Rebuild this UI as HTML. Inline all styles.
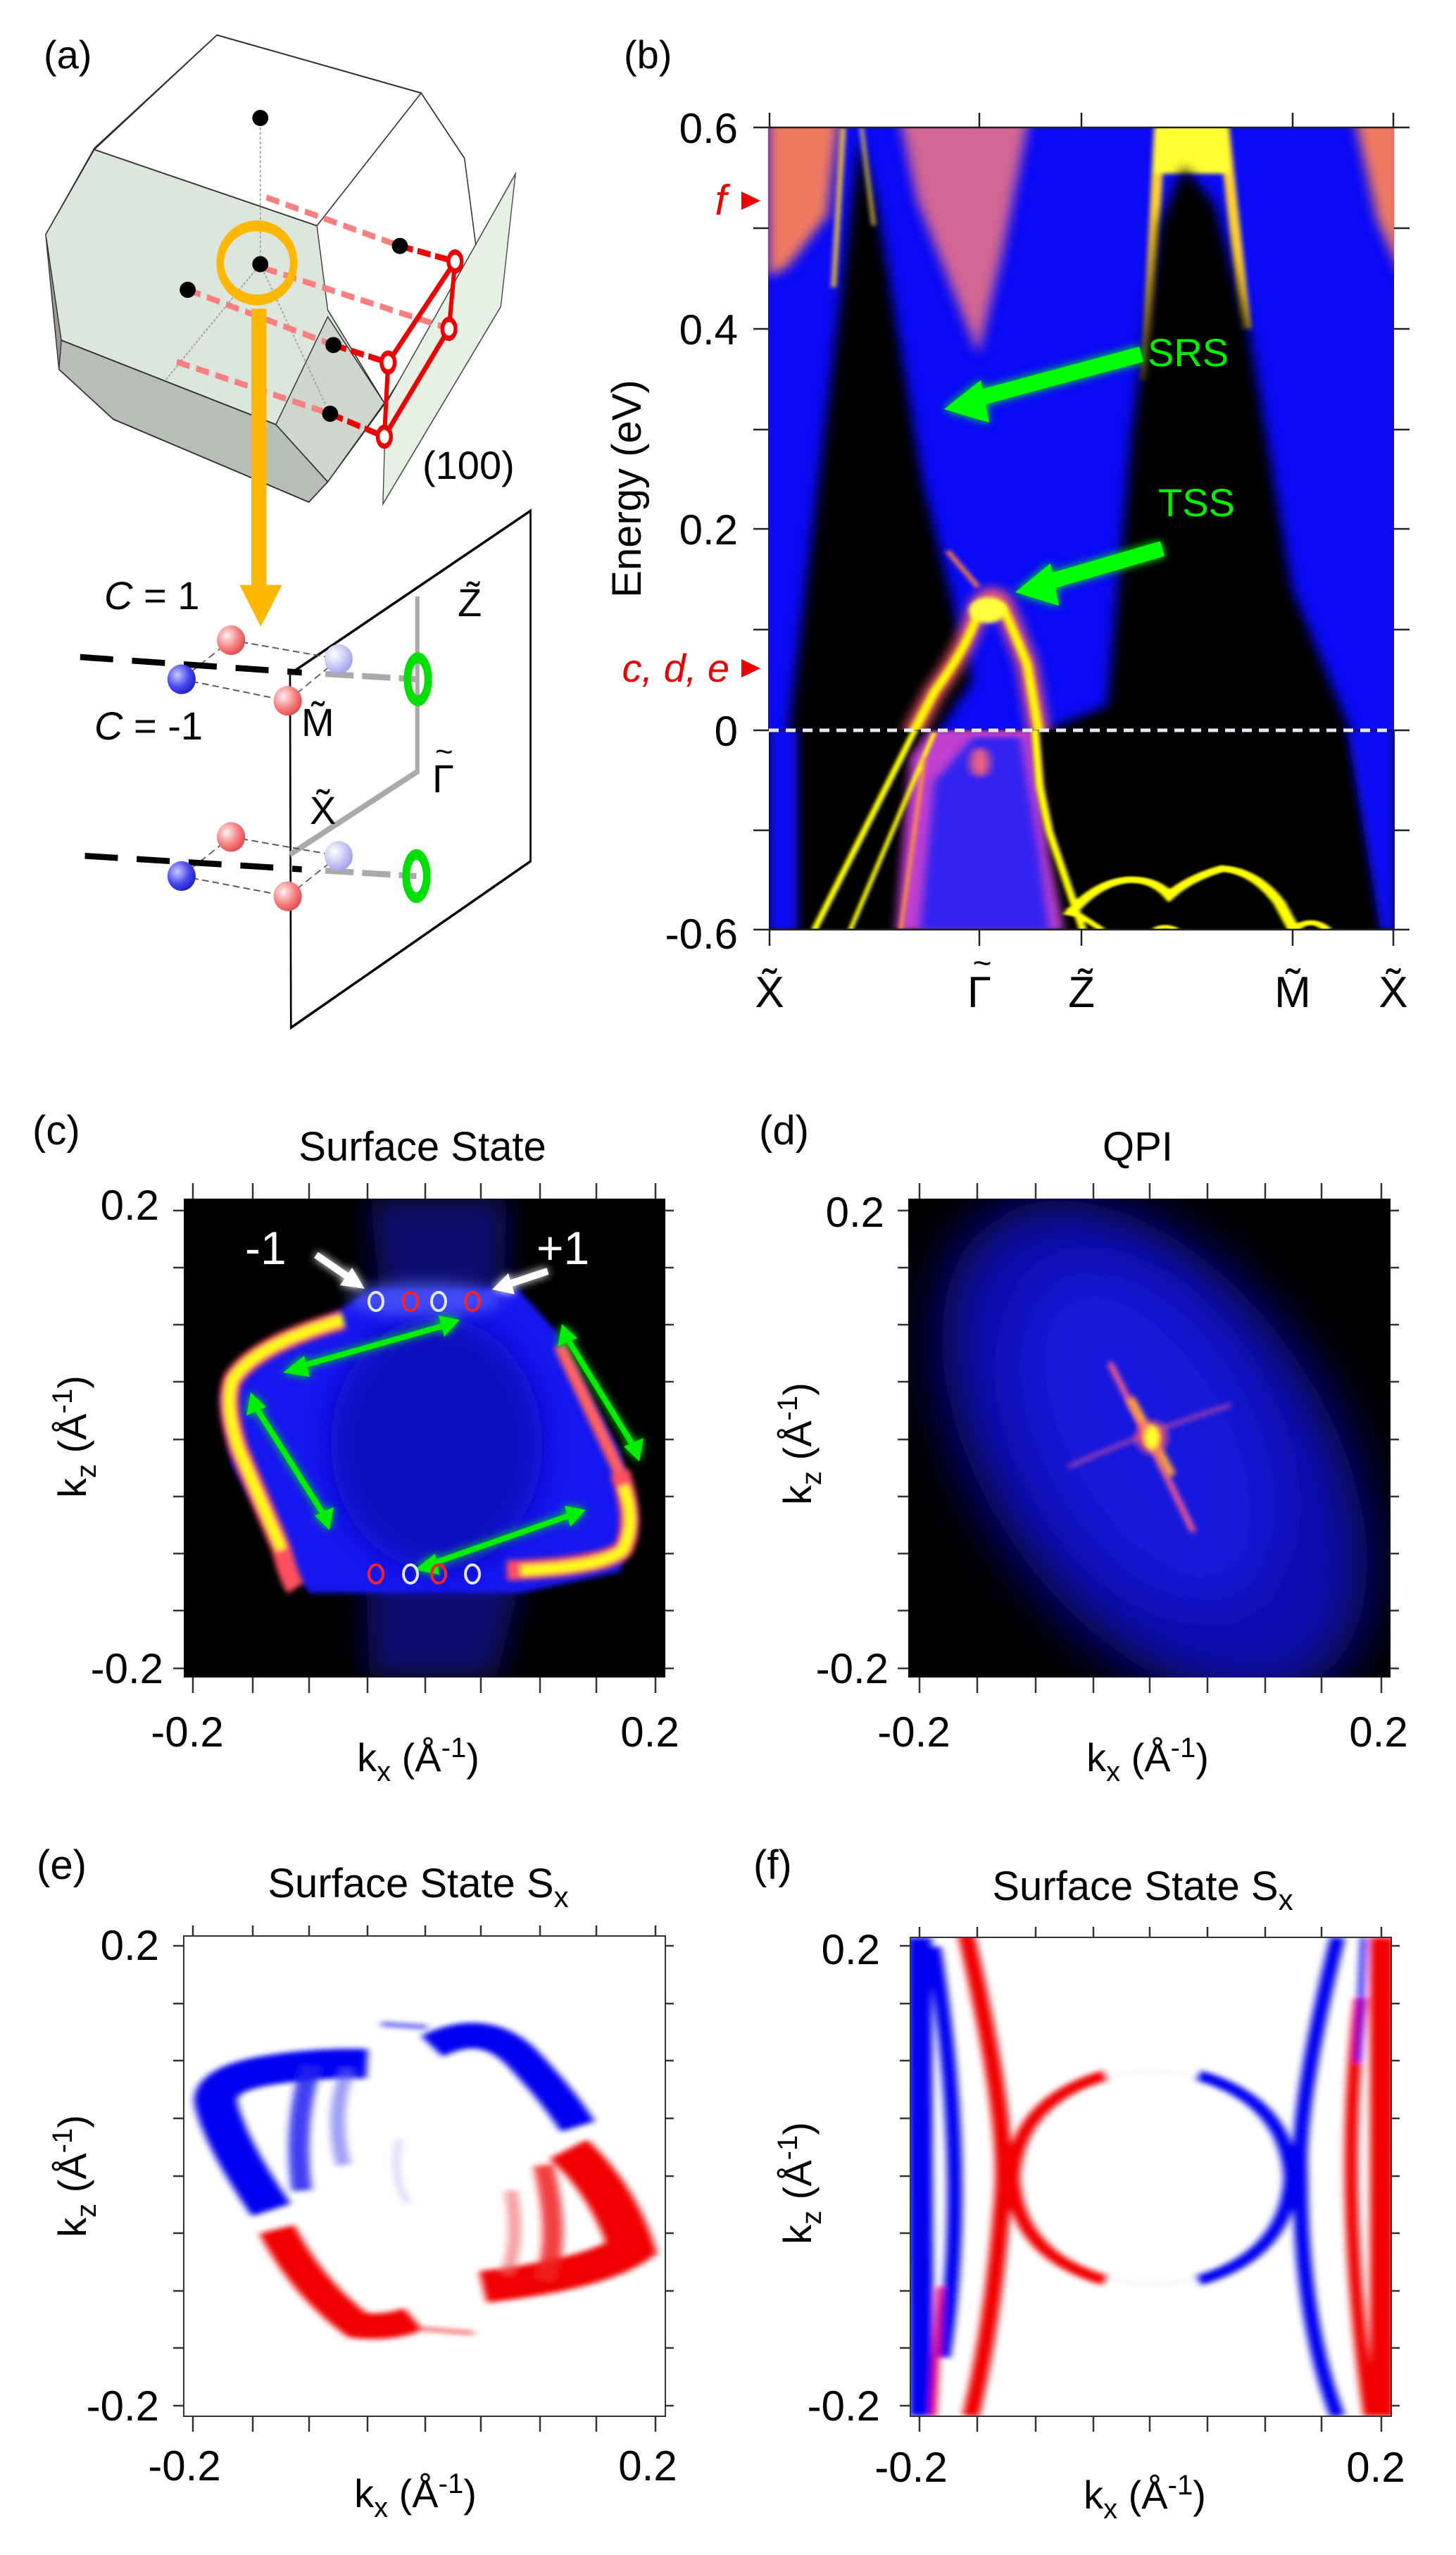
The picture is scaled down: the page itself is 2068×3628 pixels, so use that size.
<!DOCTYPE html>
<html><head><meta charset="utf-8"><style>
html,body{margin:0;padding:0;background:#fff;}
svg{display:block;}
text{font-family:"Liberation Sans","DejaVu Sans",sans-serif;}
</style></head><body>
<svg width="2068" height="3628" viewBox="0 0 2068 3628" xmlns="http://www.w3.org/2000/svg">
<defs>
<filter id="b4" x="-20%" y="-20%" width="140%" height="140%"><feGaussianBlur stdDeviation="4"/></filter>
<filter id="b10" x="-30%" y="-30%" width="160%" height="160%"><feGaussianBlur stdDeviation="10"/></filter>
<filter id="b20" x="-50%" y="-50%" width="200%" height="200%"><feGaussianBlur stdDeviation="20"/></filter>
<filter id="b40" x="-50%" y="-50%" width="200%" height="200%"><feGaussianBlur stdDeviation="40"/></filter>
<filter id="glow" x="-30%" y="-30%" width="160%" height="160%"><feGaussianBlur stdDeviation="6" result="g"/><feMerge><feMergeNode in="g"/><feMergeNode in="SourceGraphic"/></feMerge></filter>
<clipPath id="cb1"><rect x="448" y="110" width="1019" height="1167"/></clipPath>
<clipPath id="cb5"><rect x="135" y="388" width="1305" height="810"/></clipPath>
<clipPath id="cc"><rect x="261" y="1702" width="684" height="680"/></clipPath>
<clipPath id="cd"><rect x="1290" y="1702" width="685" height="680"/></clipPath>
<clipPath id="ce"><rect x="198" y="603" width="518" height="749"/></clipPath>
<clipPath id="cf"><rect x="980" y="605" width="518" height="747"/></clipPath>
<radialGradient id="star" cx="0.5" cy="0.5" r="0.5"><stop offset="0" stop-color="#ffff00"/><stop offset="0.35" stop-color="#ff8040"/><stop offset="1" stop-color="#ff40a0" stop-opacity="0"/></radialGradient>
<radialGradient id="sph_r" cx="0.35" cy="0.35" r="0.7"><stop offset="0" stop-color="#fff0f0"/><stop offset="0.6" stop-color="#f58080"/><stop offset="1" stop-color="#e04a4a"/></radialGradient>
<radialGradient id="sph_b" cx="0.35" cy="0.35" r="0.7"><stop offset="0" stop-color="#c8c8ff"/><stop offset="0.6" stop-color="#4848f0"/><stop offset="1" stop-color="#2020c0"/></radialGradient>
<radialGradient id="sph_lb" cx="0.35" cy="0.35" r="0.7"><stop offset="0" stop-color="#ffffff"/><stop offset="1" stop-color="#a0a0f0"/></radialGradient>
</defs>

<g transform="scale(0.6698,0.9569)">
  <polygon points="97,348 200,220 460,52 893,138 985,235 1012,380 815,600 695,715 655,745 240,622 125,548" fill="#fff" stroke="#222" stroke-width="2"/>
  <polygon points="200,222 672,335 695,460 815,598 585,630 130,505 97,348" fill="#dde6dc" stroke="#333" stroke-width="2"/>
  <polygon points="130,505 585,630 695,715 655,745 240,622 125,548" fill="#b9bdb8" stroke="#333" stroke-width="2"/>
  <polygon points="585,630 695,470 815,598 695,715" fill="#cfd6cd" stroke="#333" stroke-width="2"/>
  <polygon points="97,348 130,505 125,548" fill="#999" stroke="#333" stroke-width="2"/>
  <polyline points="200,222 460,52 893,138 672,335" fill="none" stroke="#333" stroke-width="2"/>
  <polyline points="893,138 985,235 1012,380" fill="none" stroke="#333" stroke-width="2"/>
  <polygon points="812,748 818,600 1093,258 1062,455" fill="#e6f0e4" stroke="#444" stroke-width="2"/>
  <line x1="552" y1="175" x2="552" y2="392" stroke="#aaa" stroke-width="3" stroke-dasharray="4,3"/>
  <line x1="552" y1="392" x2="350" y2="565" stroke="#aaa" stroke-width="3" stroke-dasharray="4,3"/>
  <line x1="552" y1="392" x2="690" y2="600" stroke="#aaa" stroke-width="3" stroke-dasharray="4,3"/>
  <g stroke="#f88080" stroke-width="9" stroke-dasharray="28,14" fill="none">
    <line x1="565" y1="293" x2="848" y2="365"/>
    <line x1="560" y1="398" x2="940" y2="485"/>
    <line x1="398" y1="430" x2="707" y2="512"/>
    <line x1="375" y1="537" x2="700" y2="614"/>
  </g>
  <g stroke="#ee0000" stroke-width="9" stroke-dasharray="28,10" fill="none">
    <line x1="848" y1="365" x2="965" y2="388"/>
    <line x1="707" y1="512" x2="823" y2="538"/>
    <line x1="700" y1="614" x2="815" y2="648"/>
  </g>
  <g stroke="#ee0000" stroke-width="9" fill="none">
    <line x1="965" y1="388" x2="952" y2="488"/>
    <line x1="952" y1="488" x2="815" y2="648"/>
    <line x1="965" y1="388" x2="823" y2="538"/>
    <line x1="823" y1="538" x2="815" y2="648"/>
  </g>
  <g fill="#fff" stroke="#ee0000" stroke-width="8">
    <circle cx="965" cy="388" r="14"/><circle cx="952" cy="488" r="14"/><circle cx="823" cy="538" r="14"/><circle cx="815" cy="648" r="14"/>
  </g>
  <g fill="#000">
    <ellipse cx="552" cy="175" rx="17" ry="12"/><ellipse cx="552" cy="392" rx="17" ry="12"/><ellipse cx="398" cy="430" rx="17" ry="12"/>
    <ellipse cx="848" cy="365" rx="17" ry="12"/><ellipse cx="707" cy="512" rx="17" ry="12"/><ellipse cx="700" cy="614" rx="17" ry="12"/>
  </g>
  <ellipse cx="545" cy="390" rx="78" ry="55" fill="none" stroke="#ffb800" stroke-width="16"/>
  <rect x="533" y="458" width="32" height="415" fill="#ffb800"/>
  <polygon points="508,868 598,868 553,930" fill="#ffb800"/>
  <polygon points="615,1000 1125,758 1125,1278 617,1525" fill="none" stroke="#000" stroke-width="4"/>
  <polyline points="885,885 885,1145 615,1268" fill="none" stroke="#aaa" stroke-width="9"/>
  <line x1="690" y1="1000" x2="885" y2="1008" stroke="#aaa" stroke-width="9" stroke-dasharray="60,18"/>
  <line x1="690" y1="1292" x2="883" y2="1300" stroke="#aaa" stroke-width="9" stroke-dasharray="60,18"/>
  <g stroke="#555" stroke-width="2" stroke-dasharray="14,8">
    <line x1="490" y1="950" x2="718" y2="978"/><line x1="385" y1="1008" x2="490" y2="950"/><line x1="385" y1="1008" x2="610" y2="1040"/><line x1="610" y1="1040" x2="718" y2="978"/>
    <line x1="490" y1="1242" x2="718" y2="1270"/><line x1="385" y1="1300" x2="490" y2="1242"/><line x1="385" y1="1300" x2="610" y2="1330"/><line x1="610" y1="1330" x2="718" y2="1270"/>
  </g>
  <line x1="170" y1="975" x2="640" y2="998" stroke="#000" stroke-width="9" stroke-dasharray="70,40"/>
  <line x1="180" y1="1270" x2="640" y2="1290" stroke="#000" stroke-width="9" stroke-dasharray="70,40"/>
  <ellipse cx="490" cy="950" rx="30" ry="22" fill="url(#sph_r)"/><ellipse cx="610" cy="1040" rx="30" ry="22" fill="url(#sph_r)"/>
  <ellipse cx="490" cy="1242" rx="30" ry="22" fill="url(#sph_r)"/><ellipse cx="610" cy="1330" rx="30" ry="22" fill="url(#sph_r)"/>
  <ellipse cx="385" cy="1008" rx="30" ry="22" fill="url(#sph_b)"/><ellipse cx="385" cy="1300" rx="30" ry="22" fill="url(#sph_b)"/>
  <ellipse cx="718" cy="978" rx="30" ry="22" fill="url(#sph_lb)"/><ellipse cx="718" cy="1270" rx="30" ry="22" fill="url(#sph_lb)"/>
  <ellipse cx="886" cy="1008" rx="22" ry="32" fill="none" stroke="#00e000" stroke-width="16"/>
  <ellipse cx="883" cy="1300" rx="22" ry="32" fill="none" stroke="#00e000" stroke-width="16"/>
</g>
<g font-size="56" fill="#000">
  <text x="62" y="97">(a)</text>
  <text x="886" y="97">(b)</text>
  <text x="600" y="680">(100)</text>
  <text x="148" y="865" font-style="italic">C<tspan font-style="normal"> = 1</tspan></text>
  <text x="134" y="1050" font-style="italic">C<tspan font-style="normal"> = -1</tspan></text>
  <text x="650" y="875">Z̃</text>
  <text x="428" y="1045">M̃</text>
  <text x="614" y="1125">Γ</text><text x="618" y="1082" font-size="44">~</text>
  <text x="440" y="1170">X̃</text>
</g>

<rect x="1092" y="181" width="888" height="1139" fill="#000"/>
<g transform="translate(700,100) scale(0.8726,0.7337)" clip-path="url(#cb1)">
  <rect x="448" y="110" width="1019" height="1167" fill="#0a0af5"/>
  <g filter="url(#b10)">
    <polygon points="448,80 565,80 545,280 480,380 448,400" fill="#f07a60"/>
    <polygon points="660,80 875,80 830,350 790,550 740,400 690,250" fill="#e8708a" opacity="0.9"/>
    <polygon points="1400,80 1480,80 1480,400 1440,290" fill="#f07a60"/>
  </g>
  <g filter="url(#b4)" fill="none">
    <path d="M1085,110 L1065,600" stroke="#ffd030" stroke-width="18"/>
    <path d="M1190,110 L1225,500" stroke="#ffd030" stroke-width="18"/>
    <polygon points="1080,100 1195,100 1200,200 1075,200" fill="#ffff30"/>
    <path d="M570,110 L555,420" stroke="#ffd030" stroke-width="8"/>
  </g>
  <g filter="url(#b10)">
    <polygon points="597,130 625,260 700,800 780,1180 720,1290 480,1290 560,500" fill="#000"/>
    <polygon points="1125,185 1175,260 1230,500 1300,1000 1400,1290 870,1290 1000,1230 1040,700 1085,300" fill="#000"/>
  </g>
  <g filter="url(#b4)" fill="none">
    <path d="M600,110 L620,300" stroke="#ffe040" stroke-width="5"/>
    <path d="M740,930 L790,1000" stroke="#ff8040" stroke-width="8"/>
  </g>
  <path d="M680,1290 L720,1200 Q770,1120 790,1040 Q810,1000 830,1030 Q850,1090 870,1150 L890,1290" fill="none" stroke="#ff6070" stroke-width="30" filter="url(#b10)"/>
  <path d="M680,1290 L720,1200 Q770,1120 790,1050 Q810,1020 830,1040 Q850,1090 870,1150 L890,1290" fill="none" stroke="#ffff00" stroke-width="14" filter="url(#b4)"/>
  <ellipse cx="805" cy="1045" rx="30" ry="25" fill="#ffff40" filter="url(#b4)"/>
</g>
<g transform="translate(1000,900) scale(0.6812,0.3508)" clip-path="url(#cb5)">
  <rect x="135" y="388" width="1305" height="810" fill="#000"/>
  <rect x="135" y="388" width="60" height="810" fill="#0a0af5" filter="url(#b10)"/>
  <polygon points="1340,388 1440,388 1440,1198 1410,1198" fill="#0a0af5" filter="url(#b10)"/>
  <polygon points="400,1198 430,500 470,388 690,388 720,900 750,1198" fill="#c040d0" filter="url(#b10)"/>
  <polygon points="450,1198 480,600 560,420 660,420 700,900 720,1198" fill="#3020f0" filter="url(#b10)"/>
  <ellipse cx="575" cy="520" rx="20" ry="60" fill="#f06080" filter="url(#b10)"/>
  <g fill="none" stroke="#ffff00" filter="url(#b4)">
    <path d="M230,1198 L440,388" stroke-width="14"/>
    <path d="M305,1198 L480,400" stroke-width="10"/>
    <path d="M410,1198 L460,500" stroke="#ff9040" stroke-width="8"/>
    <path d="M690,388 L700,620 L720,800 L790,1198" stroke-width="16"/>
    <path d="M760,1140 Q820,1000 890,995 Q940,995 970,1060 Q1010,990 1080,950 Q1150,960 1200,1090 L1230,1198" stroke-width="26"/>
    <path d="M760,1110 L830,1198" stroke-width="16"/>
    <path d="M1230,1198 Q1265,1140 1300,1198" stroke-width="20"/>
    <path d="M940,1198 Q960,1175 985,1198" stroke-width="16"/>
  </g>
</g>
<g stroke="#222" stroke-width="2.5">
  <line x1="1092" y1="181" x2="1980" y2="181"/>
  <line x1="1092" y1="1320" x2="1980" y2="1320"/>
  <line x1="1070" y1="181" x2="1092" y2="181"/><line x1="1070" y1="324" x2="1092" y2="324"/><line x1="1070" y1="467" x2="1092" y2="467"/><line x1="1070" y1="610" x2="1092" y2="610"/><line x1="1070" y1="751" x2="1092" y2="751"/><line x1="1070" y1="894" x2="1092" y2="894"/><line x1="1070" y1="1037" x2="1092" y2="1037"/><line x1="1070" y1="1179" x2="1092" y2="1179"/><line x1="1070" y1="1320" x2="1092" y2="1320"/>
  <line x1="1980" y1="181" x2="2002" y2="181"/><line x1="1980" y1="324" x2="2002" y2="324"/><line x1="1980" y1="467" x2="2002" y2="467"/><line x1="1980" y1="610" x2="2002" y2="610"/><line x1="1980" y1="751" x2="2002" y2="751"/><line x1="1980" y1="894" x2="2002" y2="894"/><line x1="1980" y1="1037" x2="2002" y2="1037"/><line x1="1980" y1="1179" x2="2002" y2="1179"/><line x1="1980" y1="1320" x2="2002" y2="1320"/>
  <line x1="1093" y1="160" x2="1093" y2="181"/><line x1="1391" y1="160" x2="1391" y2="181"/><line x1="1536" y1="160" x2="1536" y2="181"/><line x1="1836" y1="160" x2="1836" y2="181"/><line x1="1979" y1="160" x2="1979" y2="181"/>
  <line x1="1093" y1="1320" x2="1093" y2="1343"/><line x1="1391" y1="1320" x2="1391" y2="1343"/><line x1="1536" y1="1320" x2="1536" y2="1343"/><line x1="1836" y1="1320" x2="1836" y2="1343"/><line x1="1979" y1="1320" x2="1979" y2="1343"/>
</g>
<line x1="1092" y1="1037" x2="1980" y2="1037" stroke="#e8e8f0" stroke-width="5" stroke-dasharray="14,10"/>
<g font-size="60" fill="#000" text-anchor="end">
  <text x="1048" y="203">0.6</text><text x="1048" y="489">0.4</text><text x="1048" y="773">0.2</text><text x="1048" y="1059">0</text><text x="1048" y="1347">-0.6</text>
</g>
<g font-size="62" fill="#000" text-anchor="middle">
  <text x="1093" y="1430">X̃</text><text x="1391" y="1430">Γ</text><text x="1395" y="1383" font-size="46">~</text><text x="1536" y="1430">Z̃</text><text x="1836" y="1430">M̃</text><text x="1979" y="1430">X̃</text>
</g>
<text transform="translate(910,694) rotate(-90)" font-size="58" text-anchor="middle">Energy (eV)</text>
<text x="1032" y="305" font-size="60" fill="#ee0000" font-style="italic" text-anchor="end">f</text>
<polygon points="1053,272 1080,285 1053,298" fill="#ee0000"/>
<text x="1036" y="968" font-size="56" fill="#ee0000" font-style="italic" text-anchor="end">c, d, e</text>
<polygon points="1053,936 1080,949 1053,962" fill="#ee0000"/>
<g filter="url(#glow)">
  <line x1="1621" y1="503" x2="1380" y2="568" stroke="#00ff00" stroke-width="22"/>
  <polygon points="1341,581 1393,540 1405,600" fill="#00ff00"/>
  <line x1="1651" y1="779" x2="1480" y2="829" stroke="#00ff00" stroke-width="22"/>
  <polygon points="1442,841 1492,800 1504,860" fill="#00ff00"/>
</g>
<text x="1630" y="520" font-size="56" fill="#00ee00">SRS</text>
<text x="1645" y="733" font-size="56" fill="#00ee00">TSS</text>

<g clip-path="url(#cc)">
  <rect x="261" y="1702" width="684" height="680" fill="#000"/>
  <polygon points="525,1702 720,1702 715,1840 735,2262 705,2382 525,2382 520,2262 540,1840" fill="#0a0a70" filter="url(#b20)"/>
  <polygon points="530,1830 735,1830 790,1890 880,2060 905,2160 880,2232 740,2262 440,2262 395,2200 330,2080 312,1985 345,1935 450,1880" fill="#1414f0" filter="url(#b4)"/>
  <ellipse cx="620" cy="2050" rx="150" ry="180" fill="#1010c0" filter="url(#b20)"/>
  <ellipse cx="603" cy="1845" rx="110" ry="25" fill="#6070ff" opacity="0.6" filter="url(#b10)"/>
  <g fill="none" filter="url(#b4)">
    <path d="M488,1874 Q360,1910 330,1960 Q318,1995 340,2060 L400,2200 Q410,2240 420,2255" stroke="#ff5060" stroke-width="28"/>
    <path d="M488,1874 Q360,1910 330,1960 Q318,1995 340,2060 L400,2200" stroke="#ffff00" stroke-width="14"/>
    <path d="M795,1910 L880,2090" stroke="#ff6060" stroke-width="18"/>
    <path d="M880,2090 Q905,2160 885,2200 Q860,2225 720,2230" stroke="#ff5060" stroke-width="28"/>
    <path d="M885,2110 Q905,2160 885,2200 Q860,2225 740,2230" stroke="#ffff00" stroke-width="14"/>
  </g>
</g>
<g filter="url(#glow)" stroke="#00ee00" stroke-width="8" fill="#00ee00">
  <line x1="420" y1="1942" x2="635" y2="1881"/>
  <polygon points="402,1949 432,1925 440,1955" stroke="none"/><polygon points="653,1874 623,1868 631,1898" stroke="none"/>
  <line x1="362" y1="1996" x2="462" y2="2154"/>
  <polygon points="356,1977 350,2010 378,1998" stroke="none"/><polygon points="468,2173 447,2152 474,2140" stroke="none"/>
  <line x1="804" y1="1898" x2="902" y2="2057"/>
  <polygon points="798,1880 792,1912 820,1900" stroke="none"/><polygon points="908,2075 886,2054 914,2042" stroke="none"/>
  <line x1="606" y1="2223" x2="814" y2="2150"/>
  <polygon points="589,2229 618,2206 624,2236" stroke="none"/><polygon points="832,2144 802,2138 810,2168" stroke="none"/>
</g>
<g fill="none" stroke-width="4">
  <ellipse cx="534" cy="1848" rx="10" ry="13" stroke="#e0e8ff"/><ellipse cx="583" cy="1848" rx="10" ry="13" stroke="#ff2020"/>
  <ellipse cx="623" cy="1848" rx="10" ry="13" stroke="#e0e8ff"/><ellipse cx="671" cy="1848" rx="10" ry="13" stroke="#ff2020"/>
  <ellipse cx="534" cy="2235" rx="10" ry="13" stroke="#ff2020"/><ellipse cx="583" cy="2235" rx="10" ry="13" stroke="#e0e8ff"/>
  <ellipse cx="623" cy="2235" rx="10" ry="13" stroke="#ff2020"/><ellipse cx="671" cy="2235" rx="10" ry="13" stroke="#e0e8ff"/>
</g>
<g filter="url(#glow)">
  <line x1="449" y1="1782" x2="500" y2="1817" stroke="#fff" stroke-width="10"/>
  <polygon points="518,1830 483,1825 500,1800" fill="#fff"/>
  <line x1="778" y1="1805" x2="718" y2="1825" stroke="#fff" stroke-width="10"/>
  <polygon points="699,1831 722,1808 731,1838" fill="#fff"/>
</g>
<text x="348" y="1795" font-size="66" fill="#fff">-1</text>
<text x="762" y="1795" font-size="66" fill="#fff">+1</text>

<g clip-path="url(#cd)">
  <rect x="1290" y="1702" width="685" height="680" fill="#000"/>
  <ellipse cx="1640" cy="2060" rx="400" ry="240" transform="rotate(55 1640 2060)" fill="#0c0cb0" filter="url(#b40)"/>
  <ellipse cx="1630" cy="2040" rx="260" ry="150" transform="rotate(60 1630 2040)" fill="#1a1af0" opacity="0.7" filter="url(#b40)"/>
  <polygon points="1975,1702 1975,1900 1800,1702" fill="#000" filter="url(#b40)"/>
  <polygon points="1290,2382 1290,2200 1450,2382" fill="#000" filter="url(#b40)"/>
  <path d="M1576,1935 Q1630,2040 1695,2175" stroke="#ff6090" stroke-width="8" fill="none" filter="url(#b4)"/>
  <path d="M1517,2083 Q1636,2030 1748,1995" stroke="#ff6090" stroke-width="5" fill="none" filter="url(#b4)" opacity="0.7"/>
  <path d="M1605,1985 L1665,2095" stroke="#ffa040" stroke-width="12" fill="none" filter="url(#b4)"/>
  <ellipse cx="1636" cy="2041" rx="30" ry="30" fill="url(#star)"/>
  <ellipse cx="1636" cy="2041" rx="10" ry="18" fill="#ffff30" filter="url(#b4)"/>
</g>

<g transform="translate(0,2200) scale(1.3193,0.9107)" clip-path="url(#ce)">
  <g fill="none" filter="url(#b4)">
    <path d="M292,1030 Q240,920 232,860 Q232,825 290,812 Q340,800 395,802" stroke="#0000f0" stroke-width="46"/>
    <path d="M335,805 Q315,900 325,1000" stroke="#2020f0" stroke-width="22" opacity="0.85"/>
    <path d="M375,810 Q355,880 370,960" stroke="#6060f0" stroke-width="16" opacity="0.6"/>
    <path d="M465,775 Q520,735 560,790 Q600,850 622,900" stroke="#0000f0" stroke-width="40"/>
    <path d="M410,740 L460,745" stroke="#4040f0" stroke-width="6"/>
    <path d="M298,1060 Q330,1150 385,1210 Q420,1215 445,1200" stroke="#f00000" stroke-width="40"/>
    <path d="M612,935 Q660,1000 680,1090 Q640,1130 520,1150" stroke="#f00000" stroke-width="50"/>
    <path d="M585,960 Q605,1080 585,1140" stroke="#f02020" stroke-width="22" opacity="0.85"/>
    <path d="M550,1000 Q560,1080 545,1130" stroke="#f06060" stroke-width="14" opacity="0.6"/>
    <path d="M450,1215 L510,1222" stroke="#f04040" stroke-width="5"/>
    <path d="M430,920 Q420,980 440,1020" stroke="#b0b0f0" stroke-width="6" opacity="0.6"/>
  </g>
</g>
<g transform="translate(0,2200) scale(1.3193,0.9107)" clip-path="url(#cf)">
  <g fill="none" filter="url(#b4)">
    <path d="M990,605 L992,1352" stroke="#0000f0" stroke-width="26"/>
    <path d="M1005,620 Q1045,980 1015,1260" stroke="#0000f0" stroke-width="16"/>
    <path d="M1040,600 Q1085,880 1080,1000 Q1070,1200 1045,1352" stroke="#f00000" stroke-width="18"/>
    <path d="M1012,1150 L1005,1352" stroke="#f00000" stroke-width="6"/>
    <path d="M1488,605 L1488,1352" stroke="#f00000" stroke-width="26"/>
    <path d="M1465,700 Q1440,1000 1475,1352" stroke="#f00000" stroke-width="14"/>
    <path d="M1440,605 Q1395,870 1400,980 Q1400,1200 1440,1352" stroke="#0000f0" stroke-width="16"/>
    <path d="M1468,605 L1462,800" stroke="#0000f0" stroke-width="6"/>
    <ellipse cx="1240" cy="980" rx="150" ry="166" stroke="#d0d0e0" stroke-width="2" opacity="0.5"/>
    <path d="M1190,820 Q1095,860 1090,980 Q1095,1100 1190,1140" stroke="#f00000" stroke-width="16"/>
    <path d="M1290,820 Q1385,860 1390,980 Q1385,1100 1290,1140" stroke="#0000f0" stroke-width="16"/>
  </g>
</g>

<g stroke="#333" stroke-width="2" fill="none">
  <rect x="261" y="2749" width="684" height="682"/>
  <rect x="1293" y="2751" width="683" height="680"/>
</g>
<g stroke="#333" stroke-width="2.5">
  <path d="M274,1702v-22M359,1702v-22M439,1702v-22M522,1702v-22M604,1702v-22M683,1702v-22M767,1702v-22M847,1702v-22M931,1702v-22"/>
  <path d="M274,2382v22M359,2382v22M439,2382v22M522,2382v22M604,2382v22M683,2382v22M767,2382v22M847,2382v22M931,2382v22"/>
  <path d="M261,1719h-15M261,1800h-15M261,1881h-15M261,1962h-15M261,2044h-15M261,2125h-15M261,2206h-15M261,2287h-15M261,2369h-15"/>
  <path d="M945,1719h12M945,1800h12M945,1881h12M945,1962h12M945,2044h12M945,2125h12M945,2206h12M945,2287h12M945,2369h12"/>
  <path d="M1306,1702v-22M1388,1702v-22M1471,1702v-22M1553,1702v-22M1633,1702v-22M1715,1702v-22M1797,1702v-22M1877,1702v-22M1962,1702v-22"/>
  <path d="M1306,2382v22M1388,2382v22M1471,2382v22M1553,2382v22M1633,2382v22M1715,2382v22M1797,2382v22M1877,2382v22M1962,2382v22"/>
  <path d="M1290,1719h-15M1290,1800h-15M1290,1881h-15M1290,1962h-15M1290,2044h-15M1290,2125h-15M1290,2206h-15M1290,2287h-15M1290,2369h-15"/>
  <path d="M1975,1719h12M1975,1800h12M1975,1881h12M1975,1962h12M1975,2044h12M1975,2125h12M1975,2206h12M1975,2287h12M1975,2369h12"/>
  <path d="M274,2749v-15M359,2749v-15M439,2749v-15M522,2749v-15M604,2749v-15M683,2749v-15M767,2749v-15M847,2749v-15M931,2749v-15"/>
  <path d="M274,3431v22M359,3431v22M439,3431v22M522,3431v22M604,3431v22M683,3431v22M767,3431v22M847,3431v22M931,3431v22"/>
  <path d="M261,2763h-15M261,2845h-15M261,2926h-15M261,3008h-15M261,3090h-15M261,3171h-15M261,3253h-15M261,3334h-15M261,3416h-15"/>
  <path d="M945,2763h12M945,2845h12M945,2926h12M945,3008h12M945,3090h12M945,3171h12M945,3253h12M945,3334h12M945,3416h12"/>
  <path d="M1306,2751v-15M1388,2751v-15M1471,2751v-15M1553,2751v-15M1633,2751v-15M1715,2751v-15M1797,2751v-15M1877,2751v-15M1962,2751v-15"/>
  <path d="M1306,3431v22M1388,3431v22M1471,3431v22M1553,3431v22M1633,3431v22M1715,3431v22M1797,3431v22M1877,3431v22M1962,3431v22"/>
  <path d="M1293,2763h-15M1293,2845h-15M1293,2926h-15M1293,3008h-15M1293,3090h-15M1293,3171h-15M1293,3253h-15M1293,3334h-15M1293,3416h-15"/>
  <path d="M1976,2763h12M1976,2845h12M1976,2926h12M1976,3008h12M1976,3090h12M1976,3171h12M1976,3253h12M1976,3334h12M1976,3416h12"/>
</g>

<g font-size="58" fill="#000">
  <text x="46" y="1625">(c)</text>
  <text x="1078" y="1625">(d)</text>
  <text x="52" y="2668">(e)</text>
  <text x="1070" y="2668">(f)</text>
  <text x="600" y="1648" text-anchor="middle">Surface State</text>
  <text x="1616" y="1648" text-anchor="middle">QPI</text>
  <text x="594" y="2694" text-anchor="middle">Surface State S<tspan font-size="42" dy="14">x</tspan></text>
  <text x="1623" y="2698" text-anchor="middle">Surface State S<tspan font-size="42" dy="14">x</tspan></text>
</g>
<g font-size="60" fill="#000" text-anchor="end">
  <text x="226" y="1732">0.2</text><text x="232" y="2390">-0.2</text>
  <text x="1256" y="1742">0.2</text><text x="1262" y="2390">-0.2</text>
  <text x="226" y="2783">0.2</text><text x="226" y="3437">-0.2</text>
  <text x="1250" y="2789">0.2</text><text x="1250" y="3437">-0.2</text>
</g>
<g font-size="60" fill="#000" text-anchor="middle">
  <text x="266" y="2480">-0.2</text><text x="923" y="2480">0.2</text>
  <text x="1298" y="2480">-0.2</text><text x="1958" y="2480">0.2</text>
  <text x="262" y="3522">-0.2</text><text x="920" y="3522">0.2</text>
  <text x="1294" y="3524">-0.2</text><text x="1954" y="3524">0.2</text>
</g>
<g font-size="56" fill="#000" text-anchor="middle">
  <text x="594" y="2515">k<tspan font-size="40" dy="14">x</tspan><tspan dy="-14"> (Å</tspan><tspan font-size="40" dy="-20">-1</tspan><tspan dy="20">)</tspan></text>
  <text x="1630" y="2515">k<tspan font-size="40" dy="14">x</tspan><tspan dy="-14"> (Å</tspan><tspan font-size="40" dy="-20">-1</tspan><tspan dy="20">)</tspan></text>
  <text x="590" y="3560">k<tspan font-size="40" dy="14">x</tspan><tspan dy="-14"> (Å</tspan><tspan font-size="40" dy="-20">-1</tspan><tspan dy="20">)</tspan></text>
  <text x="1626" y="3562">k<tspan font-size="40" dy="14">x</tspan><tspan dy="-14"> (Å</tspan><tspan font-size="40" dy="-20">-1</tspan><tspan dy="20">)</tspan></text>
  <text transform="translate(122,2040) rotate(-90)">k<tspan font-size="40" dy="14">z</tspan><tspan dy="-14"> (Å</tspan><tspan font-size="40" dy="-20">-1</tspan><tspan dy="20">)</tspan></text>
  <text transform="translate(1152,2050) rotate(-90)">k<tspan font-size="40" dy="14">z</tspan><tspan dy="-14"> (Å</tspan><tspan font-size="40" dy="-20">-1</tspan><tspan dy="20">)</tspan></text>
  <text transform="translate(122,3090) rotate(-90)">k<tspan font-size="40" dy="14">z</tspan><tspan dy="-14"> (Å</tspan><tspan font-size="40" dy="-20">-1</tspan><tspan dy="20">)</tspan></text>
  <text transform="translate(1152,3100) rotate(-90)">k<tspan font-size="40" dy="14">z</tspan><tspan dy="-14"> (Å</tspan><tspan font-size="40" dy="-20">-1</tspan><tspan dy="20">)</tspan></text>
</g>
</svg>
</body></html>
